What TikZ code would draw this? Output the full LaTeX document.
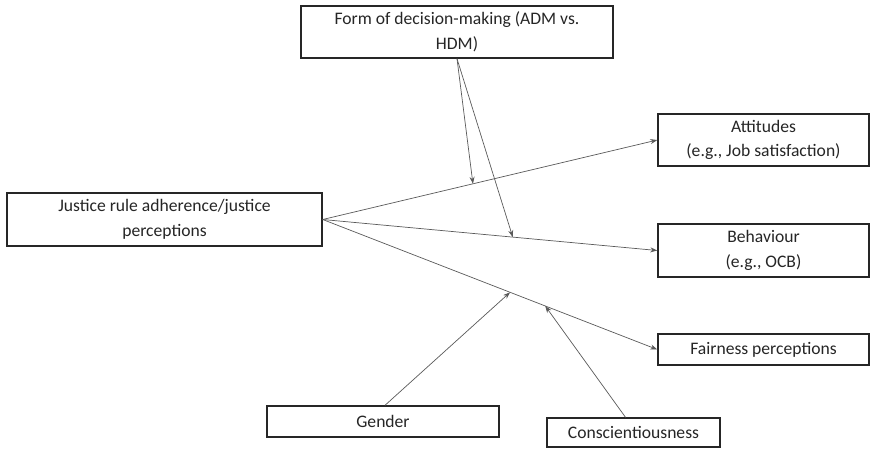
\documentclass[tikz,border=0pt]{standalone}
\usepackage{fontspec}
\setmainfont{Carlito}
\usetikzlibrary{arrows.meta,calc}
\begin{document}
\begin{tikzpicture}[x=1pt,y=-1pt,
  box/.style={draw=black!85,line width=1.4pt,fill=white,inner sep=0pt,
    align=center,text=black!85,font=\fontsize{17.6}{24.5}\selectfont},
  link/.style={draw=black!65,line width=0.7pt,
    -{Stealth[length=7pt,width=5pt]}}]
\useasboundingbox (0,0) rectangle (872,450);
% boxes (centre positions, sizes in px)
\node[box,minimum width=312,minimum height=52] (form) at (457,32)
  {Form of decision-making (ADM vs.\\HDM)};
\node[box,minimum width=315,minimum height=53] (jr) at (164.5,219.5)
  {Justice rule adherence/justice\\perceptions};
\node[box,minimum width=211,minimum height=52] (att) at (763.5,140)
  {Attitudes\\(e.g., Job satisfaction)};
\node[box,minimum width=211,minimum height=53] (beh) at (763.5,250.5)
  {Behaviour\\(e.g., OCB)};
\node[box,minimum width=211,minimum height=31] (fair) at (763.5,349.5)
  {Fairness perceptions};
\node[box,minimum width=232,minimum height=31] (gen) at (383,421.5)
  {Gender};
\node[box,minimum width=173,minimum height=29] (con) at (633.5,432.5)
  {Conscientiousness};
% main paths
\draw[link] (jr.east) -- (att.west) coordinate[pos=0.449] (m1);
\draw[link] (jr.east) -- (beh.west) coordinate[pos=0.568] (m2);
\draw[link] (jr.east) -- (fair.west) coordinate[pos=0.56] (m3)
  coordinate[pos=0.665] (m4);
% moderators
\draw[link] (form.south) -- (m1);
\draw[link] (form.south) -- (m2);
\draw[link] ($(gen.north)+(2,0)$) -- (m3);
\draw[link] ($(con.north)+(-8,0)$) -- (m4);
\end{tikzpicture}
\end{document}
